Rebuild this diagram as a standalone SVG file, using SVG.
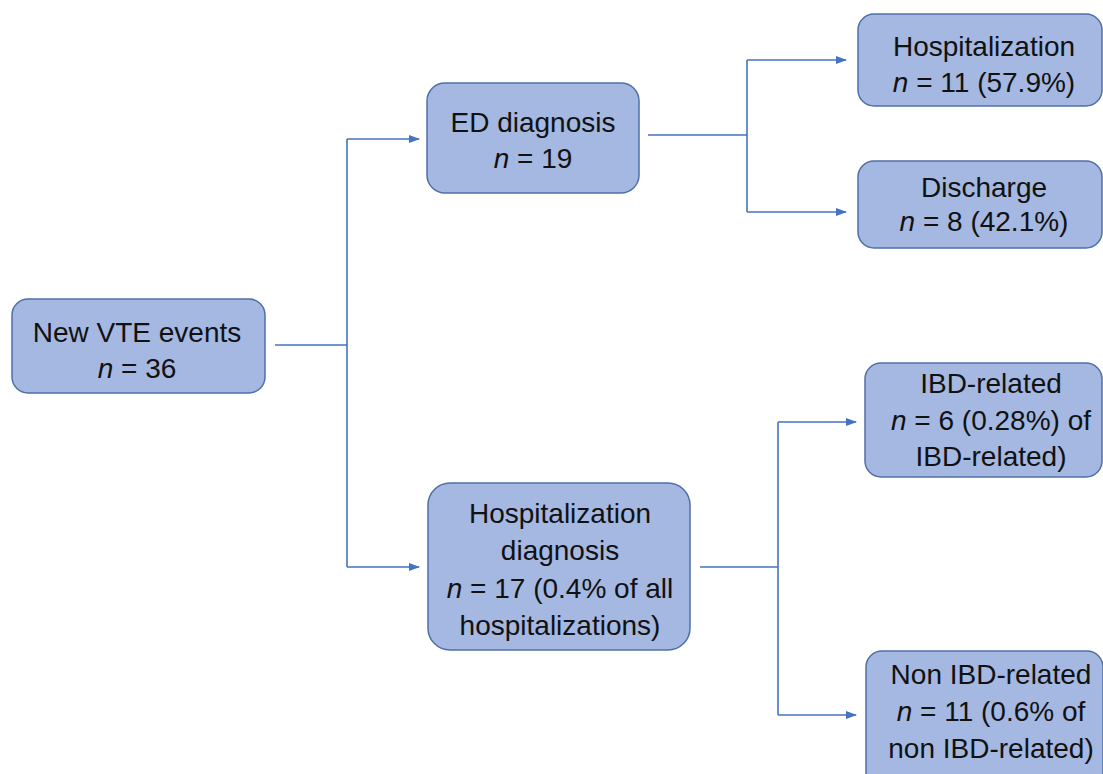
<svg xmlns="http://www.w3.org/2000/svg" width="1103" height="774" viewBox="0 0 1103 774">
<defs>
<style>
.box{fill:#A4B8E2;stroke:#4F6FA8;stroke-width:1.5}
.t{font-family:"Liberation Sans",Arial,sans-serif;font-size:28px;fill:#111;text-anchor:middle}
.i{font-style:italic}
.c{fill:none;stroke:#4472C4;stroke-width:1.6}
</style>
<marker id="arr" markerWidth="11" markerHeight="11" refX="10" refY="5.5" orient="auto" markerUnits="userSpaceOnUse">
<path d="M0,1.5 L11,5.5 L0,9.5 Z" fill="#4472C4"/>
</marker>
</defs>
<rect width="1103" height="774" fill="#fff"/>
<g id="connectors">
<path class="c" d="M275,345 H347"/>
<path class="c" d="M347,139 V567"/>
<path class="c" d="M347,139 H419" marker-end="url(#arr)"/>
<path class="c" d="M347,567 H419" marker-end="url(#arr)"/>
<path class="c" d="M648,135 H747"/>
<path class="c" d="M747,60 V212"/>
<path class="c" d="M747,60 H846" marker-end="url(#arr)"/>
<path class="c" d="M747,212 H846" marker-end="url(#arr)"/>
<path class="c" d="M700,567 H778"/>
<path class="c" d="M778,422 V715"/>
<path class="c" d="M778,422 H856" marker-end="url(#arr)"/>
<path class="c" d="M778,715 H856" marker-end="url(#arr)"/>
</g>
<g id="new-vte">
<rect class="box" x="12" y="299" width="253" height="94" rx="16"/>
<text class="t" x="137" y="342">New VTE events</text>
<text class="t" x="137" y="378"><tspan class="i">n</tspan> = 36</text>
</g>
<g id="ed-diagnosis">
<rect class="box" x="427" y="83" width="212" height="110" rx="18"/>
<text class="t" x="533" y="132">ED diagnosis</text>
<text class="t" x="533" y="168"><tspan class="i">n</tspan> = 19</text>
</g>
<g id="hospitalization">
<rect class="box" x="858" y="14" width="244" height="92" rx="16"/>
<text class="t" x="984" y="56">Hospitalization</text>
<text class="t" x="984" y="92"><tspan class="i">n</tspan> = 11 (57.9%)</text>
</g>
<g id="discharge">
<rect class="box" x="858" y="161" width="244" height="87" rx="16"/>
<text class="t" x="984" y="197">Discharge</text>
<text class="t" x="984" y="231"><tspan class="i">n</tspan> = 8 (42.1%)</text>
</g>
<g id="hosp-diagnosis">
<rect class="box" x="428" y="483" width="262" height="167" rx="22"/>
<text class="t" x="560" y="523">Hospitalization</text>
<text class="t" x="560" y="560">diagnosis</text>
<text class="t" x="560" y="598"><tspan class="i">n</tspan> = 17 (0.4% of all</text>
<text class="t" x="560" y="635">hospitalizations)</text>
</g>
<g id="ibd-related">
<rect class="box" x="865" y="363" width="237" height="114" rx="16"/>
<text class="t" x="991" y="393">IBD-related</text>
<text class="t" x="991" y="430"><tspan class="i">n</tspan> = 6 (0.28%) of</text>
<text class="t" x="991" y="466">IBD-related)</text>
</g>
<g id="non-ibd-related">
<rect class="box" x="866" y="651" width="237" height="140" rx="16"/>
<text class="t" x="991" y="684">Non IBD-related</text>
<text class="t" x="991" y="721"><tspan class="i">n</tspan> = 11 (0.6% of</text>
<text class="t" x="991" y="758">non IBD-related)</text>
</g>
</svg>
